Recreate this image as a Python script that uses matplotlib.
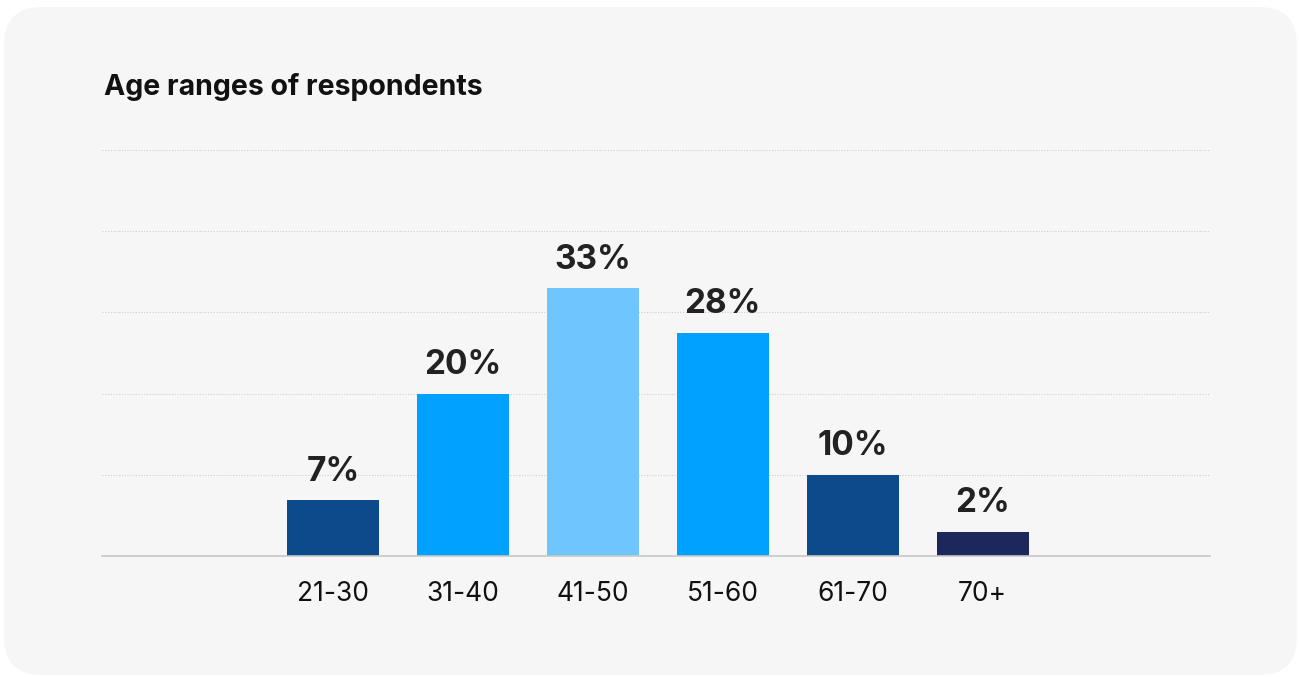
import matplotlib.pyplot as plt
from matplotlib.patches import FancyBboxPatch
from matplotlib.transforms import IdentityTransform

CATEGORIES = ["21-30", "31-40", "41-50", "51-60", "61-70", "70+"]
# bar heights as drawn in the picture, and the printed labels
VALUES = [6.9, 20, 33, 27.5, 10, 3]
LABELS = ["7%", "20%", "33%", "28%", "10%", "2%"]
COLORS = ["#0d4a8b", "#00a1ff", "#6fc6ff", "#00a1ff", "#0d4a8b", "#1c285b"]
GRID_TICKS = [10, 20, 30, 40, 50]

W, H = 1299, 677
FONT = ["Inter", "DejaVu Sans"]

fig = plt.figure(figsize=(W / 100, H / 100), dpi=100)
fig.patch.set_facecolor("white")

# rounded card background, in pixel coords, behind the axes
card = FancyBboxPatch((4, 2), 1293, 668,
                      boxstyle="round,pad=0,rounding_size=38",
                      transform=IdentityTransform(), facecolor="#f6f6f6",
                      edgecolor="none", zorder=-5)
fig.patches.append(card)

fig.text(104 / W, 1 - 87 / H, "Age ranges of respondents", fontsize=20.5,
         fontweight="bold", family=FONT, color="#111",
         ha="left", va="center")

ax = fig.add_axes([102 / W, 1 - 556 / H, (1210 - 102) / W, (556 - 150) / H])
ax.set_facecolor("none")
x = list(range(len(CATEGORIES)))
ax.bar(x, VALUES, width=0.71, color=COLORS, zorder=3)
for xi, v, lbl in zip(x, VALUES, LABELS):
    ax.annotate(lbl, (xi, v), xytext=(0, 14), textcoords="offset points",
                ha="center", va="baseline", fontsize=24, fontweight="bold",
                color="#222", family=FONT)

ax.set_xlim(-1.78, 6.75)
ax.set_ylim(0, 50)
ax.set_yticks(GRID_TICKS)
ax.yaxis.grid(True, color="#cfcfcf", linestyle=(0, (1, 1.5)), linewidth=0.8)
ax.tick_params(axis="y", left=False, labelleft=False)
ax.set_xticks(x)
ax.set_xticklabels(CATEGORIES, fontsize=19, color="#111", family=FONT)
ax.tick_params(axis="x", length=0, pad=18)
for s in ["top", "right", "left"]:
    ax.spines[s].set_visible(False)
ax.spines["bottom"].set_color("#c8c8c8")
ax.spines["bottom"].set_linewidth(1.2)
ax.spines["bottom"].set_zorder(4)

fig.savefig("out.png", dpi=100)
